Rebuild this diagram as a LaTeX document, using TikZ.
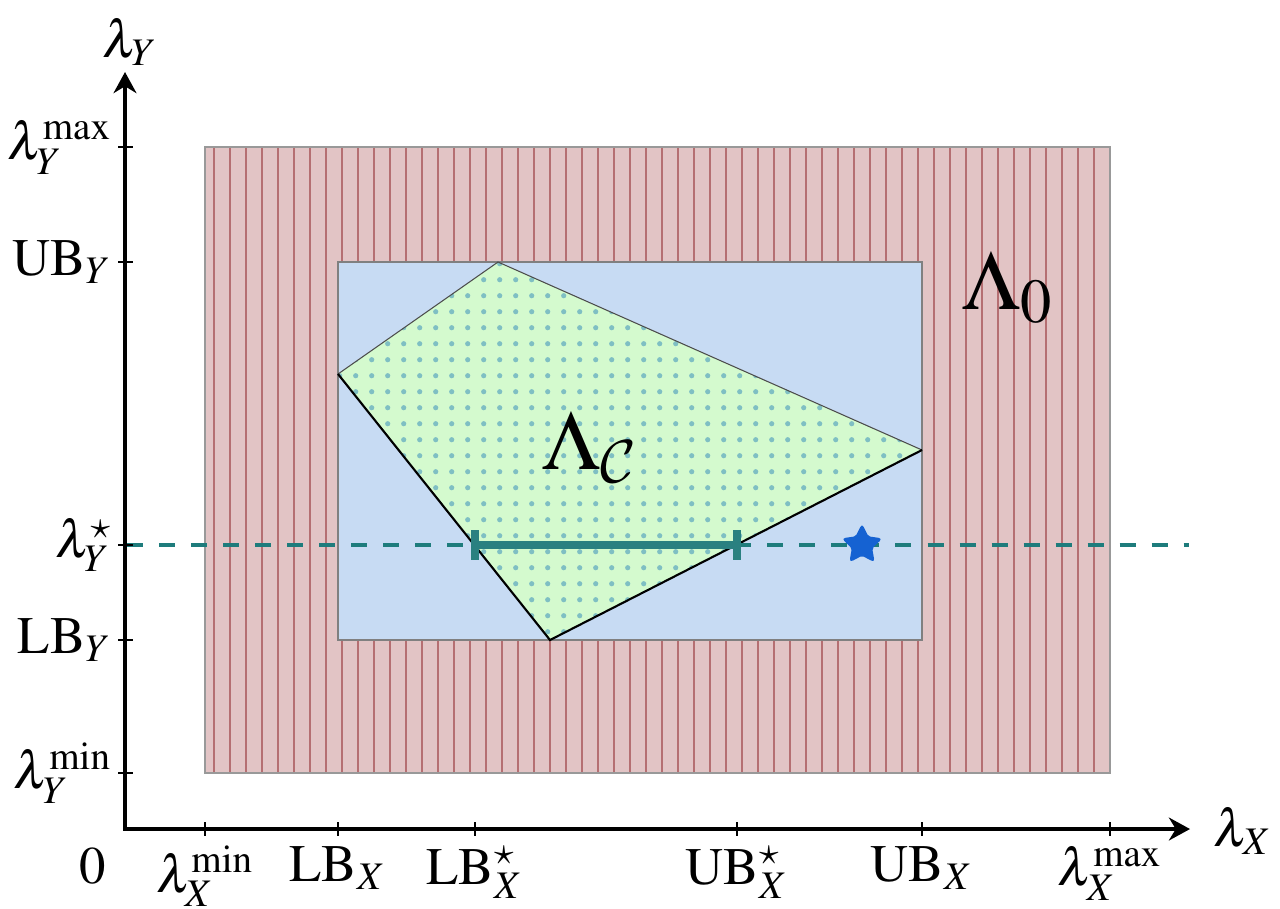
\documentclass[tikz,border=0pt]{standalone}
\usepackage{mathptmx}
\DeclareMathAlphabet{\mathcal}{OMS}{cmsy}{m}{n}
\usetikzlibrary{shapes.geometric,arrows.meta}
\definecolor{redfill}{HTML}{E2C4C5}
\definecolor{redline}{HTML}{B56F72}
\definecolor{bluefill}{HTML}{C7DBF3}
\definecolor{greenfill}{HTML}{D4FACE}
\definecolor{dotcol}{HTML}{7FBFC3}
\definecolor{dashcol}{HTML}{1E7C7C}
\definecolor{segcol}{HTML}{2A8080}
\definecolor{starcol}{HTML}{1562D2}
\begin{document}
\begin{tikzpicture}[x=0.01cm,y=-0.01cm,
  font=\fontsize{15}{18}\selectfont,
  axis/.style={line width=1.1pt},
  tickmark/.style={line width=0.5pt},
  ylab/.style={anchor=east,inner sep=1pt},
  xlab/.style={anchor=north,inner sep=1pt},
  biglab/.style={font=\fontsize{24}{28}\selectfont},
  segstyle/.style={segcol,line width=2.3pt}]
\useasboundingbox (0,0) rectangle (1280,908);
% coordinates
\coordinate (O) at (125,829);
\coordinate (Ytip) at (125,72);
\coordinate (Xtip) at (1190,829);
\coordinate (P1) at (338,374);
\coordinate (P2) at (498,262);
\coordinate (P3) at (922,450);
\coordinate (P4) at (550,640);
\coordinate (Dstart) at (127,545);
\coordinate (Dend) at (1189,545);
\coordinate (Sa) at (475,545);
\coordinate (Sb) at (737,545);
% outer region
\fill[redfill] (205,147) rectangle (1110,773);
\foreach \i in {0,...,55}
  \draw[redline,line width=0.65pt] ({214+16*\i},147) -- ({214+16*\i},773);
\draw[gray!80,line width=0.4pt] (205,147) rectangle (1110,773);
% inner box
\fill[bluefill] (338,262) rectangle (922,640);
\draw[gray,line width=0.3pt] (338,262) rectangle (922,640);
% polygon
\fill[greenfill] (P1) -- (P2) -- (P3) -- (P4) -- cycle;
\begin{scope}
  \clip (P1) -- (P2) -- (P3) -- (P4) -- cycle;
  \foreach \i in {0,...,40}
    \foreach \j in {0,...,25}
      \fill[dotcol] ({339.7+16*\i},{263.7+16*\j}) circle[radius=2.6];
\end{scope}
\draw[gray!60!black,line width=0.3pt] (P1) -- (P2) -- (P3);
\draw[black,line width=0.6pt] (P3) -- (P4) -- (P1);
% axes
\draw[axis,line join=miter,{Stealth[length=6pt,width=6.5pt]}-{Stealth[length=6pt,width=6.5pt]}] (Ytip) -- (O) -- (Xtip);
% dashed line
\draw[dashcol,line width=1pt,dash pattern=on 0.16cm off 0.16cm] (Dstart) -- (Dend);
% segment
\draw[segstyle] (Sa) -- (Sb);
\draw[segstyle] ([yshift=0.15cm]Sa) -- ([yshift=-0.15cm]Sa);
\draw[segstyle] ([yshift=0.15cm]Sb) -- ([yshift=-0.15cm]Sb);
% star
\node[star,star points=5,star point ratio=2.0,fill=starcol,draw=starcol,line width=0.5pt,rounded corners=0.6pt,minimum size=0.39cm,inner sep=0pt] (st) at (862,545) {};
% y ticks and labels
\foreach \y/\n/\t in {147/ymax/{$\lambda_Y^{\max}$},262/ub/{$\mathrm{UB}_Y$},545/ys/{$\lambda_Y^{\star}$},640/lb/{$\mathrm{LB}_Y$},773/ymin/{$\lambda_Y^{\min}$}}{
  \draw[tickmark] (118,\y) -- (133,\y);
  \node[ylab] (yl-\n) at (116,\y) {\t};
}
% x ticks and labels
\foreach \x/\n/\t in {205/xmin/{$\lambda_X^{\min}$},338/lbx/{$\mathrm{LB}_X$},475/lbs/{$\mathrm{LB}_X^{\star}$},737/ubs/{$\mathrm{UB}_X^{\star}$},922/ubx/{$\mathrm{UB}_X$},1110/xmax/{$\lambda_X^{\max}$}}{
  \draw[tickmark] (\x,822) -- (\x,836);
  \node[xlab] (xl-\n) at (\x,842) {\t};
}
\node (zero) at (93,866) {$0$};
\node (lamY) at (130,42) {$\lambda_Y$};
\node (lamX) at (1243,831) {$\lambda_X$};
\node[biglab] (L0) at (1008,288) {$\Lambda_0$};
\node[biglab] (LC) at (590,447) {$\Lambda_{\mathcal{C}}$};
\end{tikzpicture}
\end{document}
